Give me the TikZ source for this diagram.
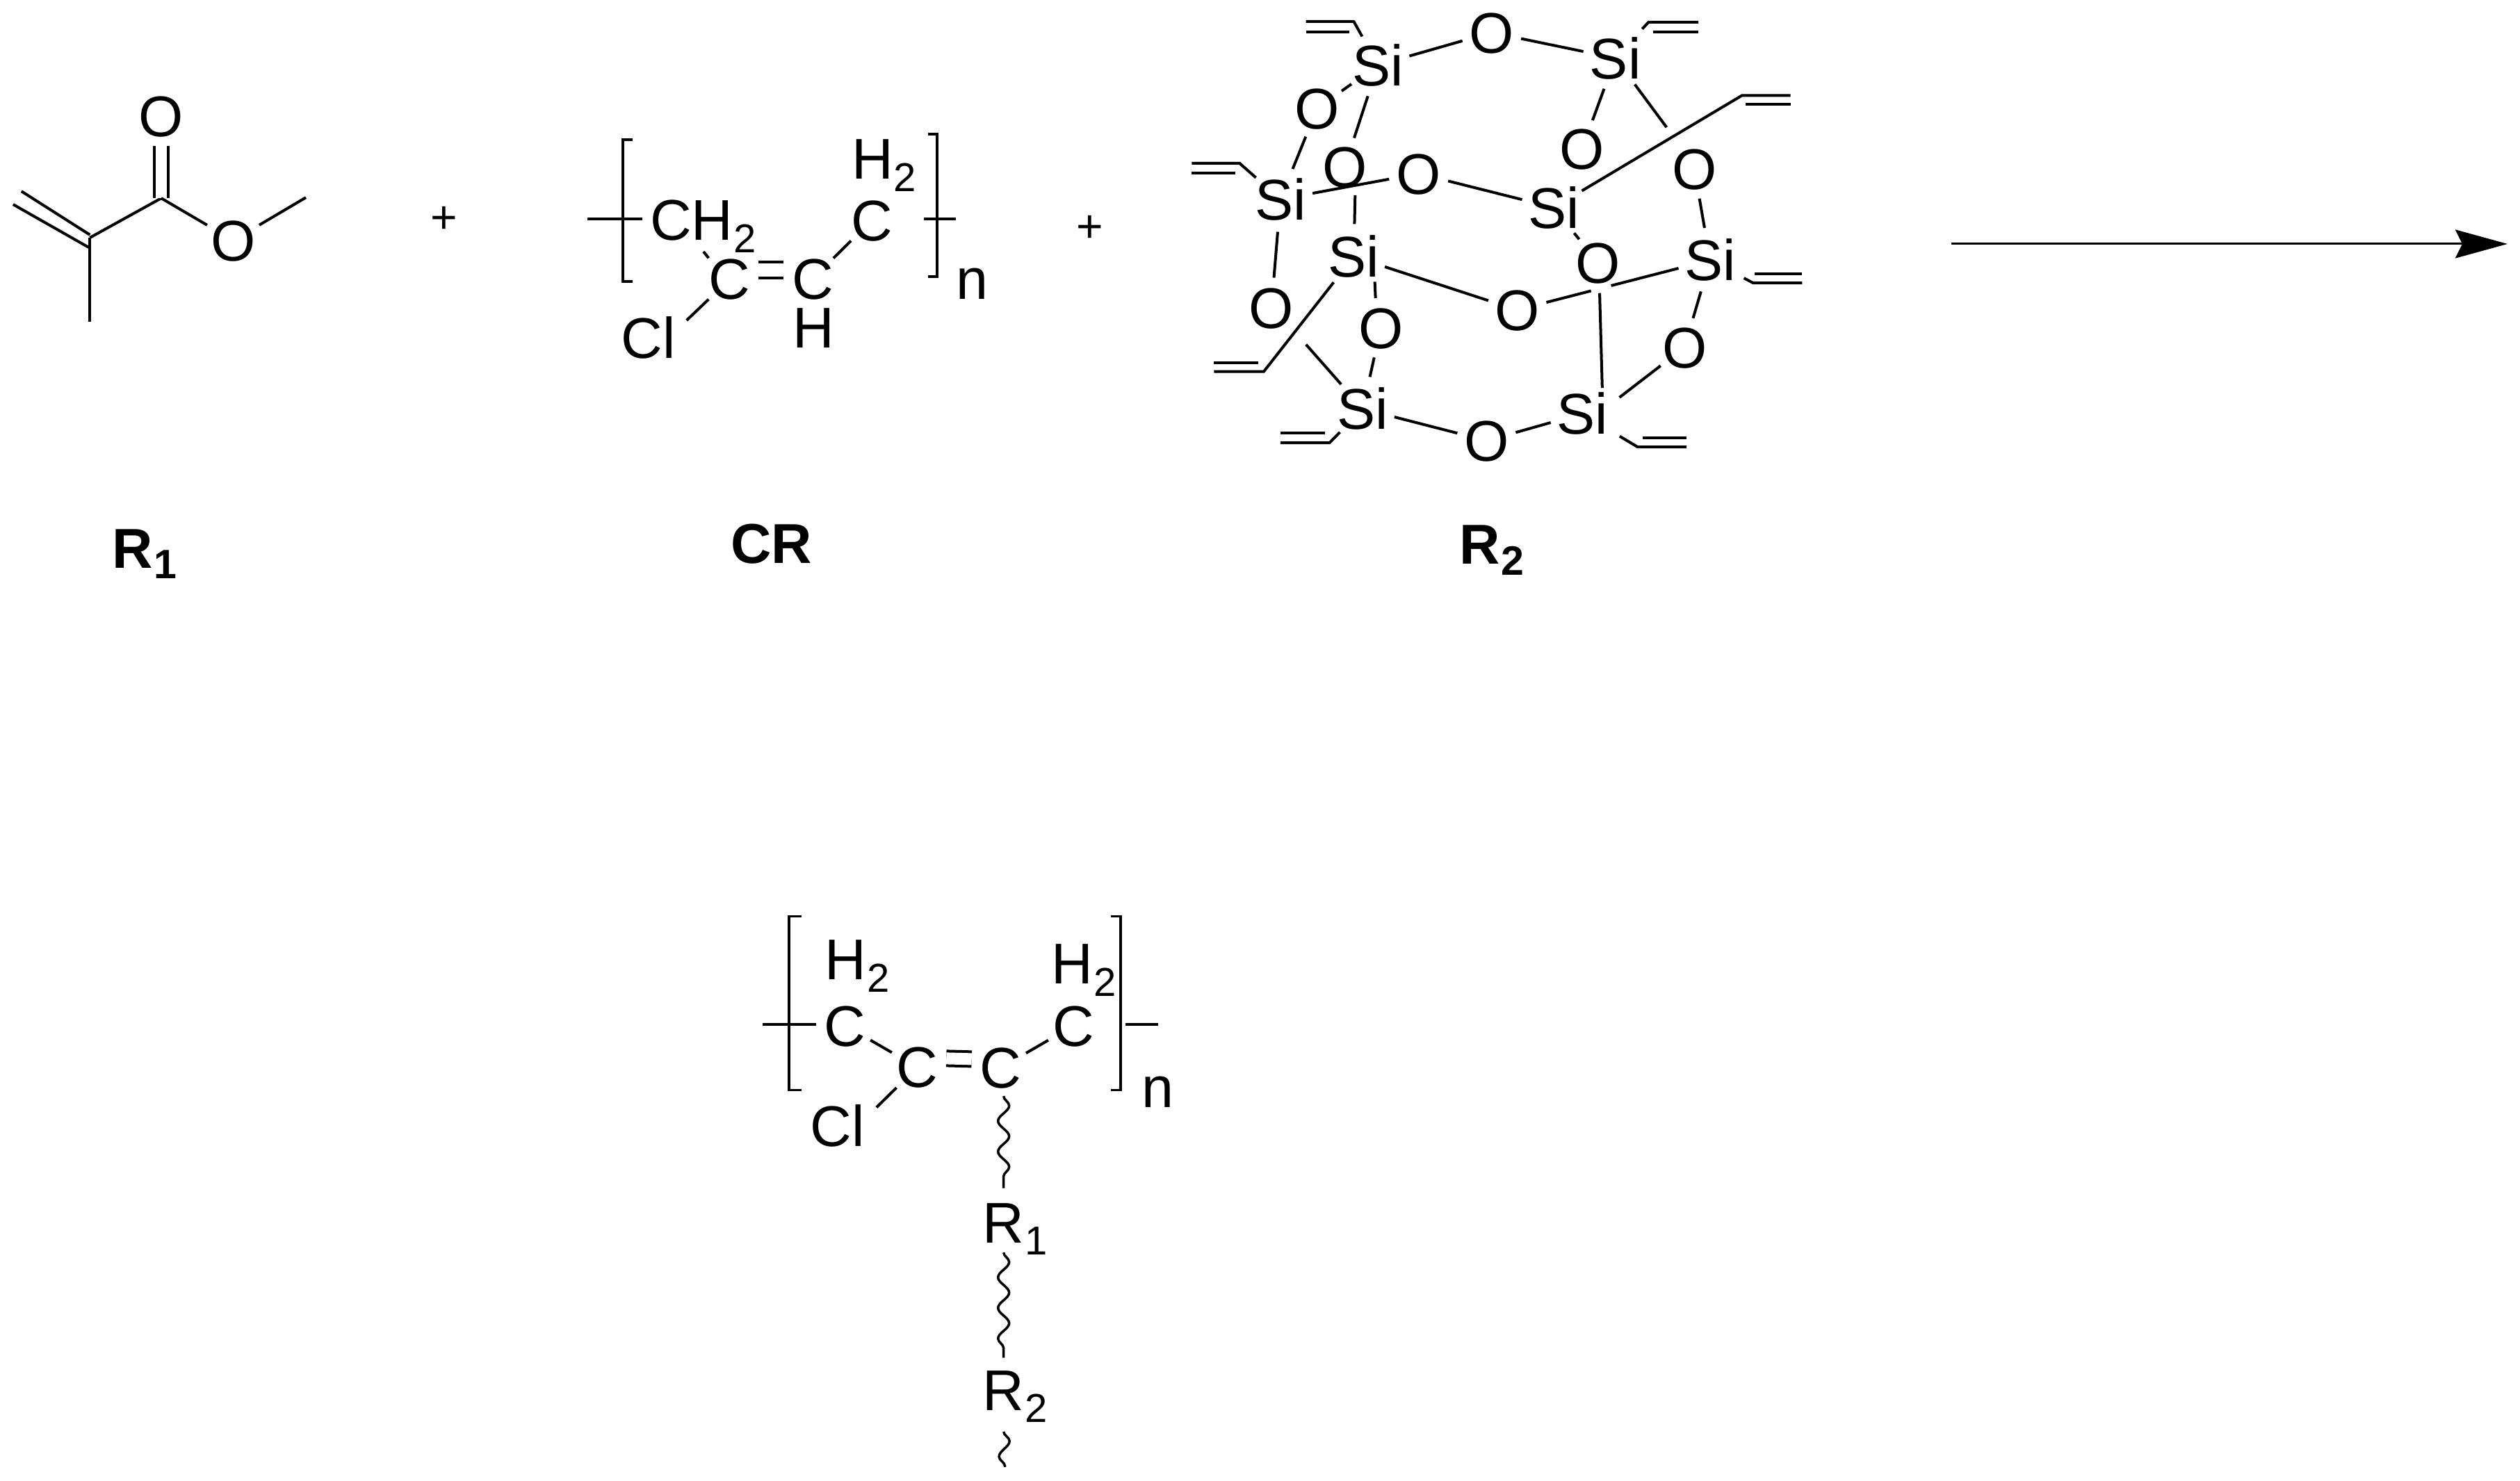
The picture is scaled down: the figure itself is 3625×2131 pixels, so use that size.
\documentclass[tikz,border=0pt]{standalone}
\usepackage{fontspec}
\setmainfont{Liberation Sans}
\usetikzlibrary{arrows.meta,calc,decorations.pathmorphing}
\newcommand{\subdrop}[1]{\kern0.01cm\raisebox{-0.175cm}{\fontsize{16.5}{16.5}\selectfont #1}}
\tikzset{
  atom/.style={circle,inner sep=0pt,outer sep=0pt,text height=0.59cm,text depth=0pt,font=\fontsize{23.5}{23.5}\selectfont},
  lab/.style={anchor=base west,inner sep=0pt,outer sep=0pt,font=\fontsize{23.5}{23.5}\selectfont},
  boldlab/.style={anchor=base west,inner sep=0pt,outer sep=0pt,font=\fontsize{23}{23}\selectfont\bfseries},
  plussign/.style={anchor=base,inner sep=0pt,font=\fontsize{18.8}{18.8}\selectfont},
  bond/.style={line width=0.04cm,line cap=butt,line join=miter},
  dbl/.style={bond,double,double distance=#1},
  brk/.style={line width=0.035cm,line join=miter},
  wavy/.style={line width=0.035cm,decorate,decoration={snake,segment length=0.44cm,amplitude=0.08cm}},
  rxn/.style={line width=0.03cm,-{Stealth[length=0.75cm,width=0.41cm,inset=0.1cm]}}
}
\begin{document}
\begin{tikzpicture}[x=0.01cm,y=-0.01cm]
\useasboundingbox (0,0) rectangle (3625,2131);
% R1 monomer and labels measured in one frame
\begin{scope}[x=0.00995cm,y=-0.00995cm,yshift=-0.005cm]
\node[atom] (ma_o1) at (233,167) {O};
\node[atom] (ma_o2) at (337,347) {O};
\coordinate (ma_c) at (233,286);
\coordinate (ma_v) at (130,343);
\coordinate (ma_me) at (130,465);
\coordinate (ma_ome) at (442,285);
\coordinate (ma_e1a) at (19,295);
\coordinate (ma_e1b) at (128,357);
\coordinate (ma_e2a) at (31,276);
\coordinate (ma_e2b) at (130,339);
\draw[bond] (ma_e1a) -- (ma_e1b);
\draw[bond] (ma_e2a) -- (ma_e2b);
\draw[bond] (ma_v) -- (ma_c);
\draw[bond] (ma_v) -- (ma_me);
\draw[dbl=0.16cm] (ma_c) -- (ma_o1);
\draw[bond] (ma_c) -- (ma_o2);
\draw[bond] (ma_o2) -- (ma_ome);
\node[boldlab] (lab_r1) at (162,821) {R\kern0.02cm\raisebox{-0.15cm}{\fontsize{16.8}{16.8}\selectfont 1}};
\node[plussign] (plus1) at (642,337) {+};
\node[boldlab,anchor=base] (lab_cr) at (1115,814) {CR};
\end{scope}
% CR
\node[lab] (cr_ch2) at (935,346) {CH\subdrop{2}};
\node[atom] (cr_c1) at (1049,401) {C};
\node[atom] (cr_c2) at (1169,401) {C};
\node[atom] (cr_c3) at (1254,317) {C};
\node[lab] (cr_h2) at (1225,258) {H\subdrop{2}};
\node[atom] (cr_cl) at (933,486) {Cl};
\node[atom] (cr_h) at (1170,471) {H};
\node[lab] (cr_n) at (1375,431) {n};
\coordinate (cr_la) at (845,315);
\coordinate (cr_lb) at (924,315);
\coordinate (cr_ra) at (1329,315);
\coordinate (cr_rb) at (1375,315);
\coordinate (cr_bl1) at (910,201);
\coordinate (cr_bl2) at (896,201);
\coordinate (cr_bl3) at (896,405);
\coordinate (cr_bl4) at (910,405);
\coordinate (cr_br1) at (1335,193);
\coordinate (cr_br2) at (1348,193);
\coordinate (cr_br3) at (1348,398);
\coordinate (cr_br4) at (1335,398);
\coordinate (cr_stub) at (1012,362);
\draw[bond] (cr_la) -- (cr_lb);
\draw[bond] (cr_ra) -- (cr_rb);
\draw[brk] (cr_bl1) -- (cr_bl2) -- (cr_bl3) -- (cr_bl4);
\draw[brk] (cr_br1) -- (cr_br2) -- (cr_br3) -- (cr_br4);
\draw[bond] (cr_stub) -- (cr_c1.135);
\draw[dbl=0.185cm] ([yshift=0.125cm]cr_c1.east) -- ([yshift=0.125cm]cr_c2.west);
\draw[bond] (cr_c2) -- (cr_c3);
\draw[bond,shorten >=0.12cm] (cr_c1.-135) -- (cr_cl.20);
\node[plussign] (plus2) at (1568,349) {+};
% R2 cage
\begin{scope}[x=0.00995cm,y=-0.00995cm,xshift=0.0825cm]
\node[atom] (si1) at (1983,94) {Si};
\node[atom] (si2) at (2326,84) {Si};
\node[atom] (si3) at (1842,288) {Si};
\node[atom] (si4) at (2237,300) {Si};
\node[atom] (si5) at (1948,371) {Si};
\node[atom] (si6) at (2463,376) {Si};
\node[atom] (si7) at (1961,591) {Si};
\node[atom] (si8) at (2278,598) {Si};
\node[atom] (o_top) at (2147,47) {O};
\node[atom] (o_a) at (1895,157) {O};
\node[atom] (o_b) at (1935,241) {O};
\node[atom] (o_c) at (2278,215) {O};
\node[atom] (o_d) at (2042,251) {O};
\node[atom] (o_e) at (2440,244) {O};
\node[atom] (o_f) at (2301,380) {O};
\node[atom] (o_g) at (1829,445) {O};
\node[atom] (o_h) at (2184,448) {O};
\node[atom] (o_i) at (1987,474) {O};
\node[atom] (o_j) at (2426,502) {O};
\node[atom] (o_k) at (2140,637) {O};
\draw[bond] (si1) -- (o_top);
\draw[bond] (o_top) -- (si2);
\draw[bond] (si1) -- (o_a);
\draw[bond] (si1) -- (o_b);
\draw[bond] (o_a) -- (si3);
\draw[bond] (si2) -- (o_c);
\draw[bond] (si3) -- (o_d);
\draw[bond] (o_d) -- (si4);
\draw[bond] (o_b.-70) -- (si5);
\draw[bond] (si3) -- (o_g);
\draw[bond] (si5) -- (o_h);
\draw[bond] (o_h) -- ($(o_h)!0.383!(si6)$);
\draw[bond] ($(o_h)!0.487!(si6)$) -- (si6);
\draw[bond] (o_e) -- (si6);
\draw[bond] (si4) -- (o_f);
\draw[bond] (si6) -- (o_j);
\draw[bond] (o_f.-87) -- (si8.52);
\draw[bond,shorten >=0.12cm] (o_j) -- (si8.20);
\draw[bond] (si8) -- (o_k);
\draw[bond] (o_k) -- (si7);
\draw[bond] (si7) -- (o_i);
\draw[bond] (si5.-50) -- (o_i.100);
% vinyl groups
\coordinate (v1c) at (1948,31);
\coordinate (v1e) at (1879,31);
\coordinate (v1p) at (1942,46);
\coordinate (v1q) at (1879,46);
\draw[bond,line join=bevel] (si1) -- (v1c) -- (v1e);
\draw[bond] (v1p) -- (v1q);
\coordinate (v2c) at (2374,32);
\coordinate (v2e) at (2446,32);
\coordinate (v2p) at (2381,46);
\coordinate (v2q) at (2446,46);
\draw[bond,shorten <=0.1cm] (si2) -- (v2c) -- (v2e);
\draw[bond] (v2p) -- (v2q);
\coordinate (v3c) at (1783,236);
\coordinate (v3e) at (1714,236);
\coordinate (v3p) at (1777,250);
\coordinate (v3q) at (1714,250);
\draw[bond] (si3) -- (v3c) -- (v3e);
\draw[bond] (v3p) -- (v3q);
\coordinate (v4c) at (2509,138);
\coordinate (v4e) at (2579,138);
\coordinate (v4p) at (2514,151);
\coordinate (v4q) at (2579,151);
\coordinate (v4s) at (2400,184);
\draw[bond] (si4) -- (v4c) -- (v4e);
\draw[bond] (v4p) -- (v4q);
\draw[bond] (si2) -- (v4s);
\coordinate (v5c) at (1818,537);
\coordinate (v5e) at (1746,537);
\coordinate (v5p) at (1810,524);
\coordinate (v5q) at (1746,524);
\draw[bond] (si5) -- (v5c) -- (v5e);
\draw[bond] (v5p) -- (v5q);
\coordinate (v6c) at (2525,409);
\coordinate (v6e) at (2596,409);
\coordinate (v6p) at (2527,396);
\coordinate (v6q) at (2596,396);
\draw[bond,shorten <=0.08cm] (si6) -- (v6c) -- (v6e);
\draw[bond] (v6p) -- (v6q);
\coordinate (v7c) at (1913,640);
\coordinate (v7e) at (1842,640);
\coordinate (v7p) at (1906,626);
\coordinate (v7q) at (1842,626);
\coordinate (v7s) at (1879,498);
\draw[bond] (si7) -- (v7c) -- (v7e);
\draw[bond] (v7p) -- (v7q);
\draw[bond] (si7) -- (v7s);
\coordinate (v8c) at (2358,646);
\coordinate (v8e) at (2429,646);
\coordinate (v8p) at (2365,633);
\coordinate (v8q) at (2429,633);
\draw[bond,shorten <=0.16cm] (si8) -- (v8c) -- (v8e);
\draw[bond] (v8p) -- (v8q);
\end{scope}
\node[boldlab] (lab_r2) at (2099,811) {R\kern0.02cm\raisebox{-0.16cm}{\fontsize{16.8}{16.8}\selectfont 2}};
% reaction arrow
\coordinate (ar_a) at (2807,351);
\coordinate (ar_b) at (3607,351);
\draw[rxn] (ar_a) -- (ar_b);
% product
\begin{scope}[x=0.00995cm,y=-0.00995cm,xshift=0.0525cm,yshift=-0.064cm]
\node[atom] (p_c1) at (1216,1476) {C};
\node[atom] (p_c2) at (1320,1536) {C};
\node[atom] (p_c3) at (1441,1537) {C};
\node[atom] (p_c4) at (1546,1476) {C};
\node[lab] (p_h1) at (1187,1410) {H\subdrop{2}};
\node[lab] (p_h2) at (1514,1416) {H\subdrop{2}};
\node[atom] (p_cl) at (1205,1621) {Cl};
\node[lab] (p_n) at (1645,1594) {n};
\node[lab] (p_r1) at (1415,1790) {R\subdrop{1}};
\node[lab] (p_r2) at (1415,2032) {R\subdrop{2}};
\coordinate (p_la) at (1097,1474);
\coordinate (p_ra) at (1621,1474);
\coordinate (p_rb) at (1668,1474);
\coordinate (p_bl1) at (1153,1318);
\coordinate (p_bl2) at (1135,1318);
\coordinate (p_bl3) at (1135,1569);
\coordinate (p_bl4) at (1153,1569);
\coordinate (p_br1) at (1600,1318);
\coordinate (p_br2) at (1614,1318);
\coordinate (p_br3) at (1614,1569);
\coordinate (p_br4) at (1600,1569);
\draw[bond] (p_la) -- (p_la -| p_c1.west);
\draw[bond] (p_ra) -- (p_rb);
\draw[brk] (p_bl1) -- (p_bl2) -- (p_bl3) -- (p_bl4);
\draw[brk] (p_br1) -- (p_br2) -- (p_br3) -- (p_br4);
\draw[bond] (p_c1) -- (p_c2);
\draw[dbl=0.17cm] ([yshift=0.125cm]p_c2.east) -- ([yshift=0.125cm]p_c3.west);
\draw[bond] (p_c3) -- (p_c4);
\draw[bond,shorten >=0.14cm] (p_c2.-135) -- (p_cl.20);
\coordinate (w1a) at (1445,1578);
\coordinate (w1b) at (1445,1711);
\coordinate (w2a) at (1445,1804);
\coordinate (w2b) at (1445,1956);
\coordinate (w3a) at (1445,2063);
\coordinate (w3b) at (1447,2114);
\draw[wavy] (w1a) -- (w1b);
\draw[wavy] (w2a) -- (w2b);
\draw[wavy] (w3a) -- (w3b);
\end{scope}
\end{tikzpicture}
\end{document}
